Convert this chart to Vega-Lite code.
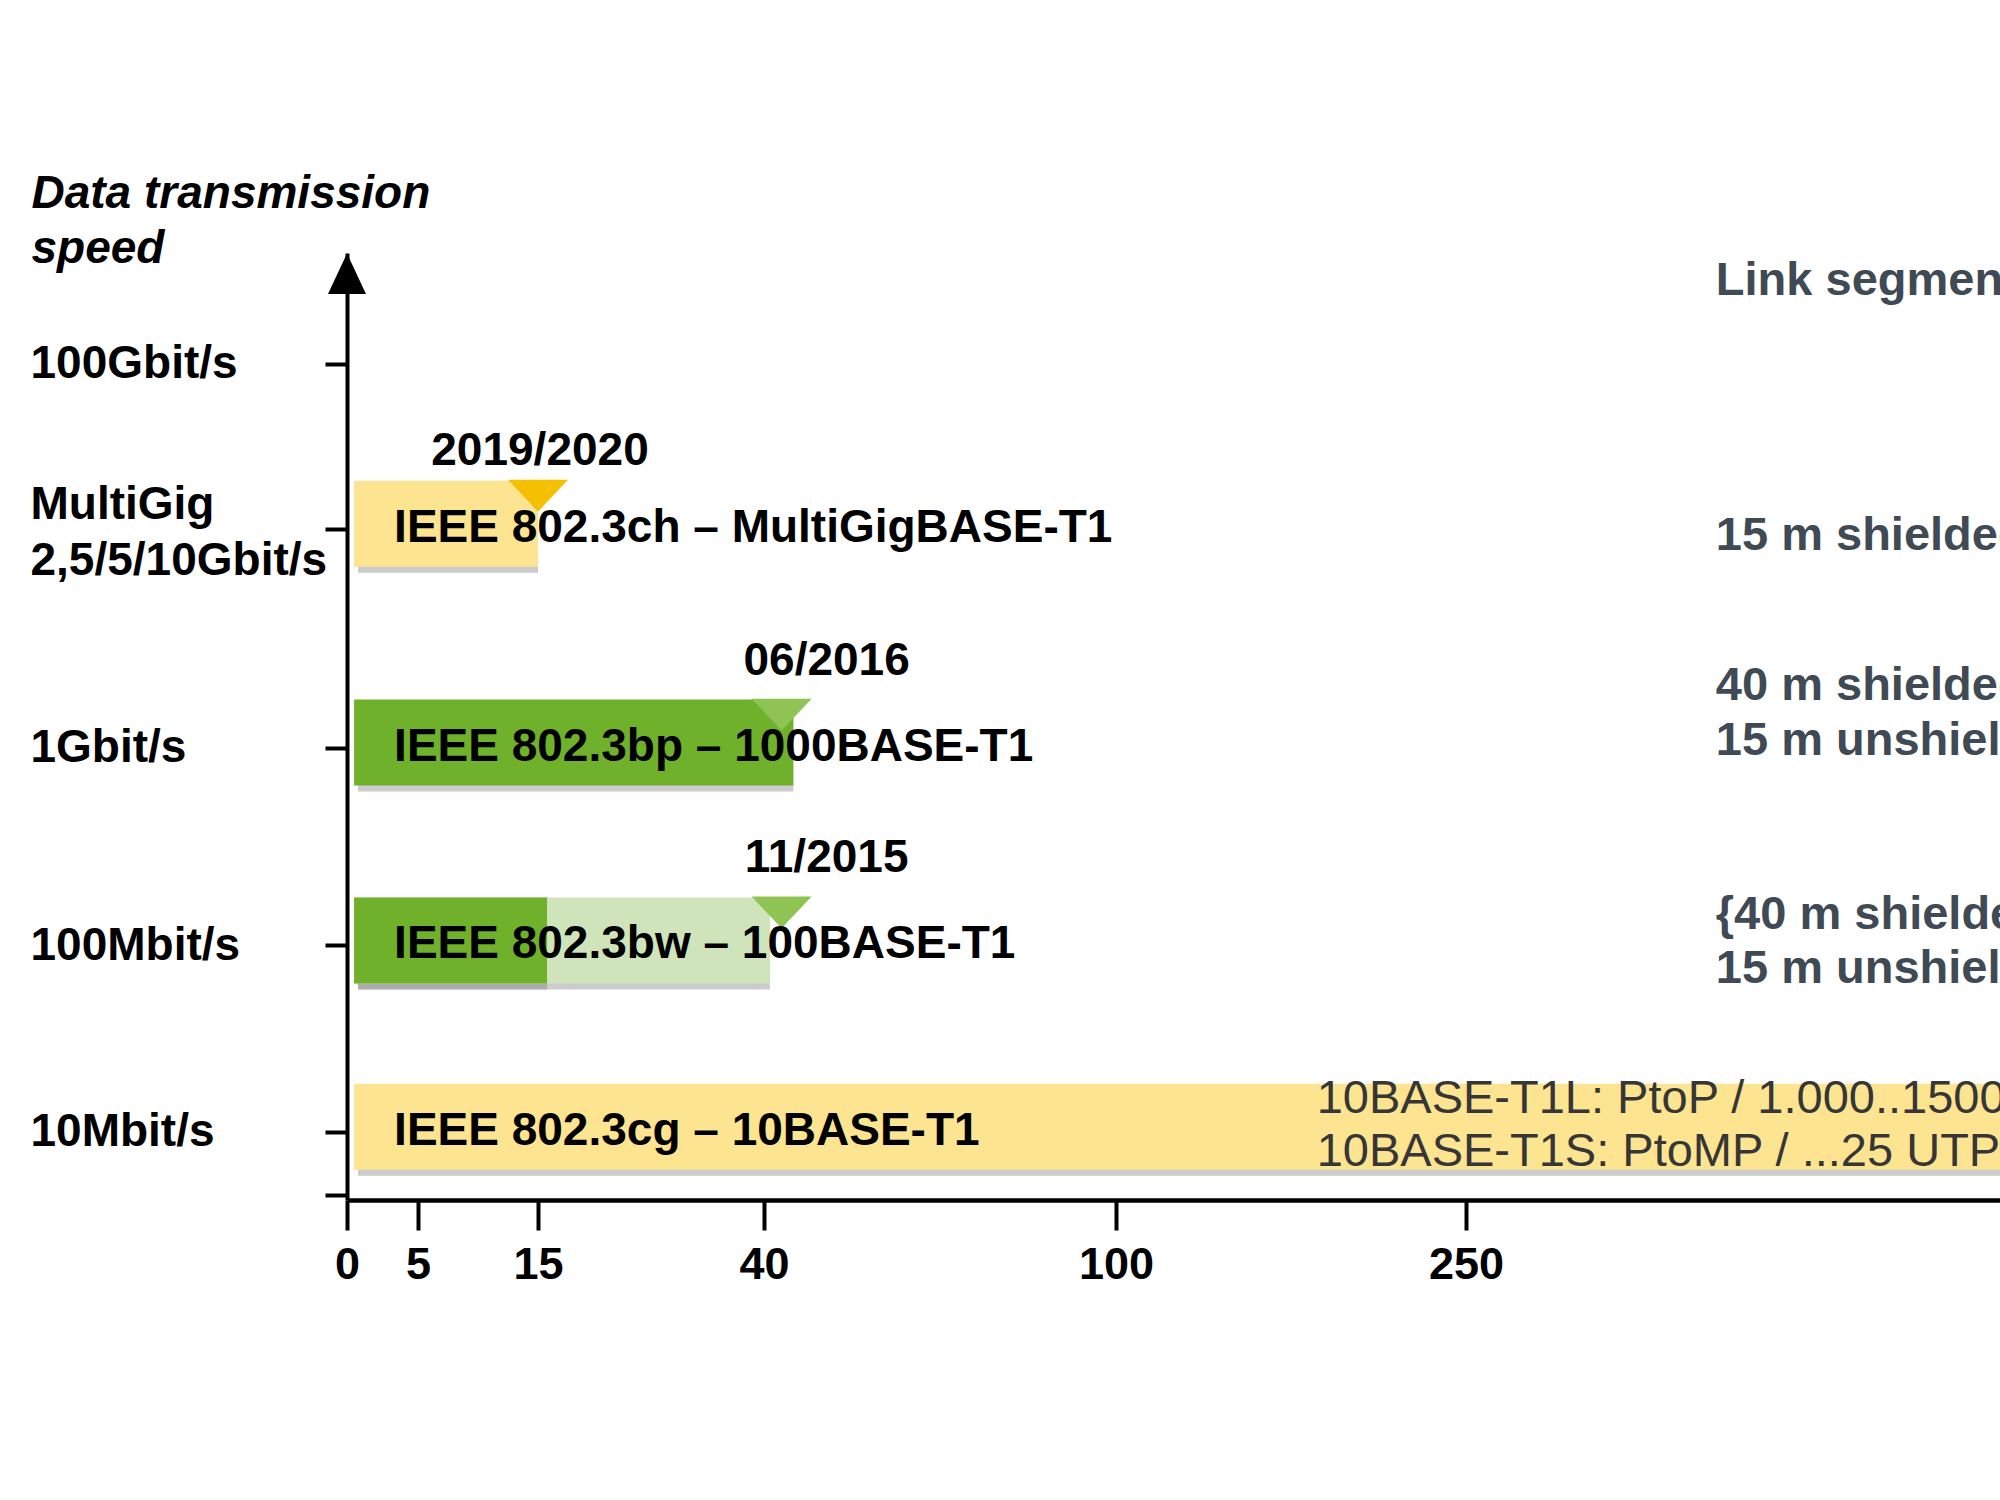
{
  "$schema": "https://vega.github.io/schema/vega-lite/v6.json",
  "width": 1653,
  "height": 947,
  "autosize": {"type": "none"},
  "padding": {"left": 347, "top": 253, "right": 0, "bottom": 300},
  "background": "#ffffff",
  "config": {
    "view": {"stroke": null},
    "font": "Liberation Sans",
    "axis": {"grid": false, "domainColor": "#000000", "tickColor": "#000000", "labelColor": "#000000", "labelFont": "Liberation Sans", "titleFont": "Liberation Sans"}
  },
  "datasets": {
    "bars": [
      {"speed": "MultiGig", "level": 4.14, "start": 0.5, "end": 15, "status": "in progress", "standard": "IEEE 802.3ch – MultiGigBASE-T1"},
      {"speed": "1Gbit/s", "level": 3, "start": 0.5, "end": 45, "status": "completed", "standard": "IEEE 802.3bp – 1000BASE-T1"},
      {"speed": "100Mbit/s", "level": 1.97, "start": 0.5, "end": 41, "status": "extended", "standard": "IEEE 802.3bw – 100BASE-T1"},
      {"speed": "100Mbit/s", "level": 1.97, "start": 0.5, "end": 16, "status": "completed", "standard": ""},
      {"speed": "10Mbit/s", "level": 1, "start": 0.5, "end": 1000, "status": "in progress", "standard": "IEEE 802.3cg – 10BASE-T1"}
    ],
    "milestones": [
      {"speed": "MultiGig", "level": 4.14, "pos": 15, "date": "2019/2020", "status": "in progress"},
      {"speed": "1Gbit/s", "level": 3, "pos": 43, "date": "06/2016", "status": "completed"},
      {"speed": "100Mbit/s", "level": 1.97, "pos": 43, "date": "11/2015", "status": "completed"}
    ],
    "notes": [
      {"speed": "MultiGig", "level": 4.14, "note": "15 m shielded"},
      {"speed": "1Gbit/s", "level": 3, "note": "40 m shielded\n15 m unshielded"},
      {"speed": "100Mbit/s", "level": 1.97, "note": "{40 m shielded\n15 m unshielded"},
      {"speed": "10Mbit/s", "level": 1, "note": "10BASE-T1L: PtoP / 1.000..1500 m\n10BASE-T1S: PtoMP / ...25 UTP"}
    ]
  },
  "layer": [
    {
      "data": {"name": "bars"},
      "mark": {"type": "bar", "orient": "horizontal", "size": 86, "xOffset": 4, "yOffset": 1, "color": "#808080", "opacity": 0.4},
      "encoding": {
        "y": {
          "field": "level", "type": "quantitative",
          "scale": {"type": "linear", "domain": [0.67, 5.55], "nice": false, "zero": false},
          "axis": {
            "values": [0.67, 1, 1.97, 3, 4.14, 5],
            "labelExpr": "datum.value == 5 ? '100Gbit/s' : datum.value == 4.14 ? ['MultiGig', '2,5/5/10Gbit/s'] : datum.value == 3 ? '1Gbit/s' : datum.value == 1.97 ? '100Mbit/s' : datum.value == 1 ? '10Mbit/s' : ''",
            "tickSize": 22, "tickWidth": 4, "domainWidth": 4,
            "labelAlign": "left",
            "labelBaseline": {"condition": {"test": "datum.value == 4.14", "value": "bottom"}, "value": "middle"},
            "labelPadding": 295, "labelLimit": 600,
            "labelFontSize": 46, "labelFontWeight": "bold", "labelLineHeight": 56,
            "labelOverlap": false, "labelFlush": false, "labelBound": false,
            "title": ["Data transmission", "speed"],
            "titleAngle": 0, "titleAlign": "left", "titleBaseline": "alphabetic",
            "titleX": -316, "titleY": -46, "titleLimit": 800,
            "titleFontSize": 46, "titleFontStyle": "italic", "titleFontWeight": "bold",
            "titleLineHeight": 55, "titleColor": "#000000"
          }
        },
        "x": {
          "field": "start", "type": "quantitative",
          "scale": {"type": "linear", "domain": [0, 5, 15, 40, 100, 250, 1000], "range": [0, 71, 191, 417, 769, 1119, 2100], "nice": false, "zero": false},
          "axis": {
            "values": [0, 5, 15, 40, 100, 250],
            "title": null,
            "domainWidth": 4.5, "tickWidth": 4, "tickSize": 30,
            "labelFontSize": 45, "labelFontWeight": "bold", "labelPadding": 12,
            "labelOverlap": false, "labelFlush": false, "labelBound": false
          }
        },
        "x2": {"field": "end"}
      }
    },
    {
      "data": {"name": "bars"},
      "mark": {"type": "bar", "orient": "horizontal", "size": 86, "yOffset": -5, "opacity": 1},
      "encoding": {
        "y": {"field": "level", "type": "quantitative", "scale": {"type": "linear", "domain": [0.67, 5.55], "nice": false, "zero": false}},
        "x": {"field": "start", "type": "quantitative", "scale": {"type": "linear", "domain": [0, 5, 15, 40, 100, 250, 1000], "range": [0, 71, 191, 417, 769, 1119, 2100], "nice": false, "zero": false}},
        "x2": {"field": "end"},
        "color": {"field": "status", "type": "nominal", "scale": {"domain": ["in progress", "completed", "extended"], "range": ["#fde491", "#6fb12b", "#cfe4bb"]}, "legend": null}
      }
    },
    {
      "data": {"name": "milestones"},
      "mark": {"type": "point", "shape": "M-1,-0.53L1,-0.53L0,0.53Z", "size": 3600, "filled": true, "opacity": 1, "strokeWidth": 0, "yOffset": -33},
      "encoding": {
        "y": {"field": "level", "type": "quantitative", "scale": {"type": "linear", "domain": [0.67, 5.55], "nice": false, "zero": false}},
        "x": {"field": "pos", "type": "quantitative", "scale": {"type": "linear", "domain": [0, 5, 15, 40, 100, 250, 1000], "range": [0, 71, 191, 417, 769, 1119, 2100], "nice": false, "zero": false}},
        "fill": {"field": "status", "type": "nominal", "scale": {"domain": ["in progress", "completed"], "range": ["#f5c000", "#8fc455"]}, "legend": null}
      }
    },
    {
      "data": {"name": "milestones"},
      "transform": [{"filter": "datum.status == 'in progress'"}],
      "mark": {"type": "text", "align": "center", "baseline": "middle", "dx": 2, "dy": -78, "fontSize": 46, "fontWeight": "bold", "color": "#000000"},
      "encoding": {
        "y": {"field": "level", "type": "quantitative", "scale": {"type": "linear", "domain": [0.67, 5.55], "nice": false, "zero": false}},
        "x": {"field": "pos", "type": "quantitative", "scale": {"type": "linear", "domain": [0, 5, 15, 40, 100, 250, 1000], "range": [0, 71, 191, 417, 769, 1119, 2100], "nice": false, "zero": false}},
        "text": {"field": "date"}
      }
    },
    {
      "data": {"name": "milestones"},
      "transform": [{"filter": "datum.status == 'completed'"}],
      "mark": {"type": "text", "align": "center", "baseline": "middle", "dx": 45, "dy": -87, "fontSize": 46, "fontWeight": "bold", "color": "#000000"},
      "encoding": {
        "y": {"field": "level", "type": "quantitative", "scale": {"type": "linear", "domain": [0.67, 5.55], "nice": false, "zero": false}},
        "x": {"field": "pos", "type": "quantitative", "scale": {"type": "linear", "domain": [0, 5, 15, 40, 100, 250, 1000], "range": [0, 71, 191, 417, 769, 1119, 2100], "nice": false, "zero": false}},
        "text": {"field": "date"}
      }
    },
    {
      "data": {"name": "bars"},
      "transform": [{"filter": "datum.standard != ''"}],
      "mark": {"type": "text", "align": "left", "baseline": "middle", "dx": 40, "dy": -1, "fontSize": 46, "fontWeight": "bold", "color": "#000000"},
      "encoding": {
        "y": {"field": "level", "type": "quantitative", "scale": {"type": "linear", "domain": [0.67, 5.55], "nice": false, "zero": false}},
        "x": {"field": "start", "type": "quantitative", "scale": {"type": "linear", "domain": [0, 5, 15, 40, 100, 250, 1000], "range": [0, 71, 191, 417, 769, 1119, 2100], "nice": false, "zero": false}},
        "text": {"field": "standard"}
      }
    },
    {
      "data": {"name": "notes"},
      "transform": [{"filter": "datum.level == 4.14"}],
      "mark": {"type": "text", "align": "left", "baseline": "middle", "dy": 7, "fontSize": 47, "fontWeight": "bold", "color": "#3f4a54", "lineBreak": "\n", "lineHeight": 54},
      "encoding": {
        "y": {"field": "level", "type": "quantitative", "scale": {"type": "linear", "domain": [0.67, 5.55], "nice": false, "zero": false}},
        "x": {"datum": 441, "type": "quantitative", "scale": {"type": "linear", "domain": [0, 5, 15, 40, 100, 250, 1000], "range": [0, 71, 191, 417, 769, 1119, 2100], "nice": false, "zero": false}},
        "text": {"field": "note"}
      }
    },
    {
      "data": {"name": "notes"},
      "transform": [{"filter": "datum.level == 1.97"}],
      "mark": {"type": "text", "align": "left", "baseline": "middle", "dy": -30, "fontSize": 47, "fontWeight": "bold", "color": "#3f4a54", "lineBreak": "\n", "lineHeight": 54},
      "encoding": {
        "y": {"field": "level", "type": "quantitative", "scale": {"type": "linear", "domain": [0.67, 5.55], "nice": false, "zero": false}},
        "x": {"datum": 441, "type": "quantitative", "scale": {"type": "linear", "domain": [0, 5, 15, 40, 100, 250, 1000], "range": [0, 71, 191, 417, 769, 1119, 2100], "nice": false, "zero": false}},
        "text": {"field": "note"}
      }
    },
    {
      "data": {"name": "notes"},
      "transform": [{"filter": "datum.level == 3"}],
      "mark": {"type": "text", "align": "left", "baseline": "middle", "dy": -62, "fontSize": 47, "fontWeight": "bold", "color": "#3f4a54", "lineBreak": "\n", "lineHeight": 55},
      "encoding": {
        "y": {"field": "level", "type": "quantitative", "scale": {"type": "linear", "domain": [0.67, 5.55], "nice": false, "zero": false}},
        "x": {"datum": 441, "type": "quantitative", "scale": {"type": "linear", "domain": [0, 5, 15, 40, 100, 250, 1000], "range": [0, 71, 191, 417, 769, 1119, 2100], "nice": false, "zero": false}},
        "text": {"field": "note"}
      }
    },
    {
      "data": {"name": "notes"},
      "transform": [{"filter": "datum.level == 1"}],
      "mark": {"type": "text", "align": "left", "baseline": "middle", "dy": -33, "fontSize": 47, "fontWeight": "normal", "color": "#363636", "lineBreak": "\n", "lineHeight": 53},
      "encoding": {
        "y": {"field": "level", "type": "quantitative", "scale": {"type": "linear", "domain": [0.67, 5.55], "nice": false, "zero": false}},
        "x": {"datum": 186, "type": "quantitative", "scale": {"type": "linear", "domain": [0, 5, 15, 40, 100, 250, 1000], "range": [0, 71, 191, 417, 769, 1119, 2100], "nice": false, "zero": false}},
        "text": {"field": "note"}
      }
    },
    {
      "data": {"values": [{"header": "Link segment length"}]},
      "mark": {"type": "text", "align": "left", "baseline": "middle", "fontSize": 47, "fontWeight": "bold", "color": "#3f4a54"},
      "encoding": {
        "y": {"datum": 5.43, "type": "quantitative", "scale": {"type": "linear", "domain": [0.67, 5.55], "nice": false, "zero": false}},
        "x": {"datum": 441, "type": "quantitative", "scale": {"type": "linear", "domain": [0, 5, 15, 40, 100, 250, 1000], "range": [0, 71, 191, 417, 769, 1119, 2100], "nice": false, "zero": false}},
        "text": {"field": "header"}
      }
    },
    {
      "data": {"values": [{"axis": "speed"}]},
      "mark": {"type": "point", "shape": "M0,-0.12L0.5,0.95L-0.5,0.95Z", "size": 5776, "filled": true, "opacity": 1, "color": "#000000", "strokeWidth": 0},
      "encoding": {
        "y": {"datum": 5.55, "type": "quantitative", "scale": {"type": "linear", "domain": [0.67, 5.55], "nice": false, "zero": false}},
        "x": {"datum": 0, "type": "quantitative", "scale": {"type": "linear", "domain": [0, 5, 15, 40, 100, 250, 1000], "range": [0, 71, 191, 417, 769, 1119, 2100], "nice": false, "zero": false}}
      }
    }
  ]
}
